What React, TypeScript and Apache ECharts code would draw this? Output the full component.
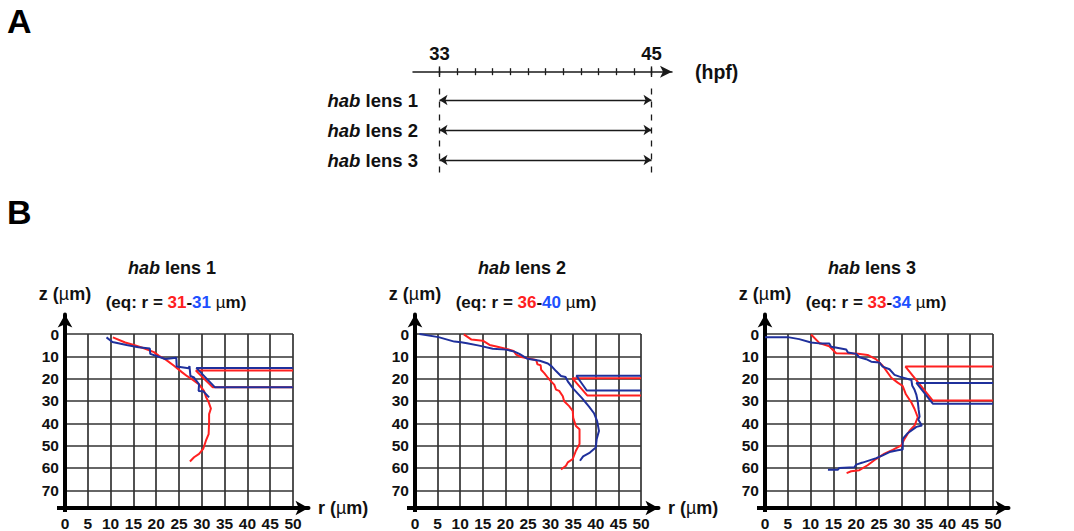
import React, { useEffect, useRef } from "react";
import * as echarts from "echarts";

const FONT = '"Liberation Sans", Arial, Helvetica, sans-serif';
const INK = "#111111";
const RED = "#ff2020";
const BLUE_LINE = "#1f309c";
const BLUE_TEXT = "#2050ff";
const GRID_COLOR = "#333333";

// ---------- Panel A : time line (hpf) ----------
const hpfTicks = [33, 34, 35, 36, 37, 38, 39, 40, 41, 42, 43, 44, 45];
const hpfLabels = [33, 45];
const lensNames = ["hab lens 1", "hab lens 2", "hab lens 3"];
const lensStartHpf = [33, 33, 33];
const lensEndHpf = [45, 45, 45];

// ---------- Panel B : lens profiles (r, z in µm) ----------
const eqRed = [31, 36, 33];
const eqBlue = [31, 40, 34];

const lens1Red = [
  [10.5, 1.5], [13.2, 3.8], [15.1, 4.9], [17.3, 6.4], [19.5, 8.1], [20.6, 9.8], [22.1, 11.5],
  [23.9, 14.2], [25.7, 17.2], [26.8, 18.9], [27.9, 20.4], [29.4, 22.6], [30.5, 25.6], [30.9, 28.1],
  [31.5, 30.5], [32, 33.4], [31.6, 35.9], [31.6, 39.6], [31.5, 44.8], [30.9, 47.8], [30.3, 51.5],
  [29.4, 53.7], [28.3, 55.2], [27.4, 57.1],
];
const lens1Blue = [
  [9.1, 1.5], [10.4, 3.6], [13.5, 4.9], [16.1, 5.9], [18.6, 6.5], [18.7, 8.9], [20.4, 10.1],
  [22, 11.2], [24.4, 10.6], [24.5, 14.6], [27.1, 15.3], [27.3, 14.4], [27.5, 18.8], [28.3, 19.5],
  [29.4, 22.5], [29.3, 25.5], [30.3, 25.6], [31.6, 28.4],
];
const lens1RedEq = [[50, 16.4], [28.7, 16.4], [32.4, 23.9], [50, 23.9]];
const lens1BlueEq = [[50, 15.2], [28.8, 15.2], [32.9, 23.9], [50, 23.9]];

const lens2Red = [
  [10.8, 0.2], [12.5, 2.5], [15, 3], [15.8, 4], [16.5, 4.9], [18, 5.6], [20.5, 6.8], [21.8, 7.6],
  [22.4, 9.2], [23.5, 10.3], [25.7, 11.2], [26.8, 11.6], [27.1, 13.6], [27.8, 14], [27.9, 16],
  [28.6, 17.5], [29.4, 19.6], [30.1, 21.2], [30.8, 22.7], [31.2, 24.9], [31.9, 25.5], [32.7, 27.9],
  [33, 30.1], [34.1, 32.3], [34.9, 34.5], [35, 37.5], [35.6, 41.2], [36.4, 42.7], [36.4, 49.3],
  [35.6, 52.3], [34.9, 56], [33.8, 57.5], [33.4, 59], [32.3, 60.7],
];
const lens2Blue = [
  [1, 0], [5.2, 1.4], [8.7, 3.4], [10.2, 3.7], [11.5, 4.1], [14.2, 5.2], [17.2, 6.6], [20.1, 7],
  [22, 7.9], [23.1, 8.9], [24.9, 11.1], [27.6, 12], [29.4, 13.2], [30.3, 14.6], [31.2, 16.6],
  [32.3, 18.8], [33.3, 19.3], [33.8, 21.2], [35, 24.5], [36.9, 28.6], [38.5, 32.5], [39.6, 35.5],
  [40.3, 39], [40.7, 43.4], [40.2, 47], [40, 50.8], [38.7, 53.1], [37.2, 54.8], [36.5, 56.8],
];
const lens2RedEq = [[50, 19.8], [34.8, 19.8], [38.1, 27.5], [50, 27.5]];
const lens2BlueEq = [[50, 18.7], [35.7, 18.7], [38, 25.3], [50, 25.3]];

const lens3Red = [
  [10.1, 0.2], [11.9, 4], [14.1, 5.5], [15.6, 8.6], [20.4, 8.9], [22.5, 9.4], [24.4, 11.4],
  [25.8, 14.2], [27.7, 19.6], [29.1, 21.8], [30.2, 23.3], [30.9, 27], [32.1, 30.7], [32.8, 33.6],
  [33.5, 37.3], [32.8, 41], [31.7, 43.3], [30.6, 47], [29.9, 49.9], [28, 51.9], [26.2, 53.6],
  [24.4, 55.9], [22.5, 58.8], [20.7, 61], [18.9, 61.5], [17.9, 62.3],
];
const lens3Blue = [
  [0, 1.4], [5, 1.4], [7.5, 2.3], [10.1, 3.8], [11.9, 4.2], [14.1, 4.3], [14.5, 5.7], [15.5, 6],
  [17.8, 6.9], [18.2, 8.3], [20, 8.9], [20.7, 10.4], [22.2, 11.3], [23.3, 12.4], [25.1, 12.8],
  [25.8, 14.6], [27.3, 15.8], [28.4, 18.3], [29.5, 19.1], [32.1, 20.6], [32.3, 23.2], [32.8, 25],
  [33.2, 27.3], [33.5, 30.3], [33.7, 34], [33.9, 37], [33.6, 38.3], [34.4, 41], [33.2, 41.6],
  [31.2, 44.6], [30.2, 47], [30.2, 51.7], [29.1, 52.1], [27.3, 52.9], [25.8, 54.4], [24.4, 55.6],
  [22.9, 56.6], [21.4, 57.6], [20, 58.5], [19.6, 59.7], [16.3, 60], [16, 60.8], [13.8, 60.8],
];
const lens3RedEq = [[50, 14.6], [30.8, 14.6], [36.8, 29.8], [50, 29.8]];
const lens3BlueEq = [[50, 21.9], [33.2, 21.9], [36.8, 31.2], [50, 31.2]];

const rMin = 0, rMax = 50, rInterval = 5;
const zMin = 0, zMax = 77.5, zInterval = 10;

const panels = [
  { red: lens1Red, blue: lens1Blue, redEq: lens1RedEq, blueEq: lens1BlueEq },
  { red: lens2Red, blue: lens2Blue, redEq: lens2RedEq, blueEq: lens2BlueEq },
  { red: lens3Red, blue: lens3Blue, redEq: lens3RedEq, blueEq: lens3BlueEq },
];

// ---------- layout ----------
const W = 1074, H = 531;
const panelLeft = [65, 415, 765];
const panelWidth = [228, 226, 228];
const plotTop = 334, plotHeight = 174;
const arrowLen = 13;
const axisGridTop = 308 + arrowLen / 2;
const axisGridH = 508 - axisGridTop;
const axisGridW = 250 - arrowLen / 2;

const italicName = (s: string) => s.replace(/^(\S+)/, "{i|$1}");

function richFont(size: number, extra: Record<string, any> = {}) {
  return { fontFamily: FONT, fontWeight: "bold", fontSize: size, fill: INK, color: INK, ...extra };
}

function buildOption() {
  const grid: any[] = [{ left: 413, top: 85, width: 259, height: 90 }];
  panelLeft.forEach((l, p) => grid.push({ left: l, top: plotTop, width: panelWidth[p], height: plotHeight }));
  panelLeft.forEach((l) => grid.push({ left: l, top: axisGridTop, width: axisGridW, height: axisGridH }));

  const tickLbl = { fontFamily: FONT, fontWeight: "bold", color: INK };
  const hidden = { axisLine: { show: false, onZero: false }, axisTick: { show: false }, axisLabel: { show: false }, splitLine: { show: false } };

  const xAxis: any[] = [
    {
      gridIndex: 0, type: "value", min: 31.5, max: 46.16, position: "top", offset: 13.3,
      axisLine: { show: true, onZero: false, symbol: ["none", "arrow"], symbolSize: [9, 12], lineStyle: { color: "#1a1a1a", width: 1.5 } },
      axisTick: { show: true, customValues: hpfTicks, inside: false, length: 3.5, lineStyle: { color: "#1a1a1a", width: 1.3 } },
      axisLabel: { show: true, customValues: hpfLabels, margin: 9, fontSize: 18.5, ...tickLbl },
      splitLine: { show: false },
      name: "(hpf)", nameLocation: "end", nameGap: 23,
      nameTextStyle: { fontSize: 19.5, ...tickLbl },
    },
    {
      gridIndex: 0, type: "value", min: 31.5, max: 46.16, position: "top", offset: 13.3,
      axisLine: { show: false, onZero: false },
      axisTick: { show: true, customValues: hpfTicks, inside: true, length: 3.5, lineStyle: { color: "#1a1a1a", width: 1.3 } },
      axisLabel: { show: false }, splitLine: { show: false },
    },
    {
      gridIndex: 0, type: "value", min: 31.5, max: 46.16, position: "top", offset: 13.3,
      axisLine: { show: false, onZero: false },
      axisTick: { show: true, customValues: hpfLabels, inside: false, length: 5.3, lineStyle: { color: "#1a1a1a", width: 1.4 } },
      axisLabel: { show: false }, splitLine: { show: false },
    },
    {
      gridIndex: 0, type: "value", min: 31.5, max: 46.16, position: "top", offset: 13.3,
      axisLine: { show: false, onZero: false },
      axisTick: { show: true, customValues: hpfLabels, inside: true, length: 5.3, lineStyle: { color: "#1a1a1a", width: 1.4 } },
      axisLabel: { show: false }, splitLine: { show: false },
    },
  ];
  const yAxis: any[] = [
    {
      gridIndex: 0, type: "value", min: 0, max: 3, inverse: true,
      axisLine: { show: false, onZero: false }, axisTick: { show: false }, splitLine: { show: false },
      axisLabel: {
        show: true, customValues: [0.5, 1.5, 2.5], margin: -5, fontSize: 18.5, ...tickLbl,
        formatter: (v: number) => italicName(lensNames[Math.floor(v)] || ""),
        rich: { i: { fontFamily: FONT, fontWeight: "bold", fontStyle: "italic", fontSize: 18.5, color: INK } },
      },
    },
  ];

  panelLeft.forEach((_, p) => {
    xAxis.push({
      gridIndex: 1 + p, type: "value", min: rMin, max: rMax, interval: rInterval,
      axisLine: { show: false, onZero: false }, axisTick: { show: false },
      axisLabel: { margin: 8, fontSize: 15.5, ...tickLbl },
      splitLine: { show: true, lineStyle: { color: GRID_COLOR, width: 1.7 } },
    });
    yAxis.push({
      gridIndex: 1 + p, type: "value", min: zMin, max: zMax, interval: zInterval, inverse: true,
      axisLine: { show: false, onZero: false }, axisTick: { show: false },
      axisLabel: {
        margin: 6, fontSize: 15.5, ...tickLbl, showMaxLabel: false,
        formatter: (v: number) => (v % zInterval === 0 ? String(v) : ""),
      },
      splitLine: { show: true, showMaxLine: false, lineStyle: { color: GRID_COLOR, width: 1.7 } },
    });
  });

  const nameStyle = {
    fontSize: 18, ...tickLbl,
    rich: { u: { fontFamily: FONT, fontWeight: "normal", fontSize: 18, color: INK } },
  };
  const thickAxis = { show: true, onZero: false, symbol: ["none", "arrow"], symbolSize: [11, arrowLen], lineStyle: { color: "#000", width: 4 } };
  panelLeft.forEach((_, p) => {
    xAxis.push({
      gridIndex: 4 + p, type: "value", min: 0, max: 1, ...hidden, axisLine: thickAxis,
      name: p < 2 ? "r ({u|µ}m)" : "", nameLocation: "end", nameGap: arrowLen / 2 + 3,
      nameTextStyle: { ...nameStyle, verticalAlign: "middle" },
    });
    yAxis.push({
      gridIndex: 4 + p, type: "value", min: 0, max: 1, ...hidden, axisLine: thickAxis,
      name: "z ({u|µ}m)", nameLocation: "end", nameGap: arrowLen / 2 + 5,
      nameTextStyle: { ...nameStyle, align: "center" },
    });
  });

  const series: any[] = [
    {
      type: "lines", coordinateSystem: "cartesian2d", xAxisIndex: 0, yAxisIndex: 0,
      symbol: "none", silent: true,
      lineStyle: { color: "#1a1a1a", width: 1.3, type: [6, 7], opacity: 1 },
      data: [lensStartHpf[0], lensEndHpf[0]].map((h) => ({ coords: [[h, 0.12], [h, lensNames.length + 0.07]] })),
    },
    {
      type: "lines", coordinateSystem: "cartesian2d", xAxisIndex: 0, yAxisIndex: 0,
      symbol: ["arrow", "arrow"], symbolSize: 8, silent: true,
      lineStyle: { color: "#1a1a1a", width: 1.4, opacity: 1 },
      data: lensNames.map((_, i) => ({ coords: [[lensStartHpf[i], i + 0.5], [lensEndHpf[i], i + 0.5]] })),
    },
  ];
  const mk = (data: number[][], color: string, p: number) => ({
    type: "line", xAxisIndex: 4 + p, yAxisIndex: 1 + p, data, showSymbol: false, symbol: "none",
    lineStyle: { color, width: 2 }, itemStyle: { color }, clip: false, silent: true, z: 3,
  });
  panels.forEach((pd, p) => {
    series.push(mk(pd.red, RED, p));
    series.push(mk(pd.blue, BLUE_LINE, p));
    series.push(mk(pd.redEq, RED, p));
    series.push(mk(pd.blueEq, BLUE_LINE, p));
  });

  const graphic: any[] = [
    { type: "text", x: 7, y: 4, style: { text: "A", fontFamily: FONT, fontWeight: "bold", fontSize: 34, fill: "#000", verticalAlign: "top", textVerticalAlign: "top" } },
    { type: "text", x: 7, y: 195, style: { text: "B", fontFamily: FONT, fontWeight: "bold", fontSize: 34, fill: "#000", verticalAlign: "top", textVerticalAlign: "top" } },
  ];
  panelLeft.forEach((l, p) => {
    // short stubs where the two thick axes cross
    graphic.push({ type: "rect", shape: { x: l - 8, y: 506, width: 10, height: 4 }, style: { fill: "#000" }, silent: true });
    graphic.push({ type: "rect", shape: { x: l - 2, y: 506, width: 4, height: 6 }, style: { fill: "#000" }, silent: true });
    graphic.push({
      type: "text", x: l + 107, y: 268,
      style: {
        text: italicName(lensNames[p]), ...richFont(18),
        align: "center", textAlign: "center", verticalAlign: "middle", textVerticalAlign: "middle",
        rich: { i: richFont(18, { fontStyle: "italic" }) },
      },
    });
    graphic.push({
      type: "text", x: l + 111, y: 302,
      style: {
        text: `(eq: r = {r|${eqRed[p]}}-{b|${eqBlue[p]}} {u|µ}m)`, ...richFont(17),
        align: "center", textAlign: "center", verticalAlign: "middle", textVerticalAlign: "middle",
        rich: {
          r: richFont(17, { fill: RED, color: RED }),
          b: richFont(17, { fill: BLUE_TEXT, color: BLUE_TEXT }),
          u: richFont(17, { fontWeight: "normal" }),
        },
      },
    });
  });

  return {
    animation: false,
    backgroundColor: "#ffffff",
    textStyle: { fontFamily: FONT },
    grid, xAxis, yAxis, series, graphic,
  };
}

export default function App() {
  const ref = useRef<HTMLDivElement>(null);
  useEffect(() => {
    if (!ref.current) return;
    const chart = echarts.init(ref.current, null, { renderer: "svg", width: W, height: H });
    chart.setOption(buildOption() as any);
    return () => chart.dispose();
  }, []);
  return <div ref={ref} style={{ position: "fixed", left: 0, top: 0, width: W, height: H, background: "#fff" }} />;
}
